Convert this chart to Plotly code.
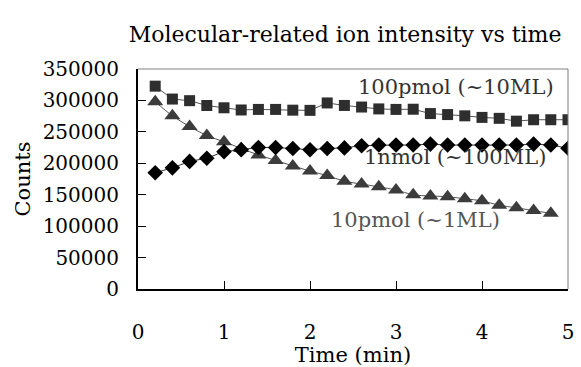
import plotly.graph_objects as go

time_sq = [0.2, 0.4, 0.6, 0.8, 1.0, 1.2, 1.4, 1.6, 1.8, 2.0, 2.2, 2.4, 2.6,
           2.8, 3.0, 3.2, 3.4, 3.6, 3.8, 4.0, 4.2, 4.4, 4.6, 4.8, 5.0]
pmol100 = [322700, 302200, 299600, 291900, 288300, 284800, 285700, 285700,
           284500, 284200, 296000, 292000, 289500, 286500, 285700, 286000,
           279100, 277500, 275500, 273000, 271500, 267000, 269300, 269300, 269300]

time_di = time_sq
nmol1 = [185000, 192700, 203000, 208100, 218500, 221600, 225100, 225100,
         223600, 221600, 223600, 224500, 228000, 229000, 229000, 229000,
         230500, 229000, 229000, 229000, 229000, 229000, 230500, 229000, 224000]

time_tr = [0.2, 0.4, 0.6, 0.8, 1.0, 1.2, 1.4, 1.6, 1.8, 2.0, 2.2, 2.4,
           2.6, 2.8, 3.0, 3.2, 3.4, 3.6, 3.8, 4.0, 4.2, 4.4, 4.6, 4.8]
pmol10 = [298000, 275500, 258500, 244100, 234400, 223600, 213300, 204600,
          195800, 187600, 180400, 171500, 167000, 162500, 157500, 150000,
          148000, 146800, 143500, 140200, 133200, 129200, 124700, 120500]

x_ticks = [0, 1, 2, 3, 4, 5]
y_ticks = [0, 50000, 100000, 150000, 200000, 250000, 300000, 350000]

FONT = "DejaVu Serif"

fig = go.Figure()
fig.add_trace(go.Scatter(x=time_sq, y=pmol100, mode="lines+markers",
                         line=dict(color="#555555", width=1),
                         marker=dict(symbol="square", size=11, color="#2e2e2e"),
                         name="100pmol (~10ML)"))
fig.add_trace(go.Scatter(x=time_tr, y=pmol10, mode="lines+markers",
                         line=dict(color="#555555", width=1, shape="spline"),
                         marker=dict(symbol="triangle-up", size=14, color="#3c3c3c"),
                         name="10pmol (~1ML)"))
fig.add_trace(go.Scatter(x=time_di, y=nmol1, mode="lines+markers",
                         line=dict(color="#333333", width=1),
                         marker=dict(symbol="diamond", size=12, color="#000000"),
                         name="1nmol (~100ML)"))

fig.add_annotation(x=3.70, y=320700, text="100pmol (~10ML)", showarrow=False,
                   font=dict(family=FONT, size=21, color="#333333"))
fig.add_annotation(x=3.69, y=209700, text="1nmol (~100ML)", showarrow=False,
                   font=dict(family=FONT, size=21, color="#333333"))
fig.add_annotation(x=3.23, y=109500, text="10pmol (~1ML)", showarrow=False,
                   font=dict(family=FONT, size=21, color="#555555"))

fig.update_layout(
    width=581, height=367,
    margin=dict(l=138, r=7, t=69, b=71),
    paper_bgcolor="white", plot_bgcolor="white",
    showlegend=False,
    font=dict(family=FONT, size=20, color="black"),
    title=dict(text="Molecular-related ion intensity vs time", x=0.594, xanchor="center",
               y=0.907, yanchor="middle", font=dict(family=FONT, size=22, color="black")),
)
fig.update_xaxes(range=[0, 5], tickvals=x_ticks, ticks="inside", ticklen=8,
                 tickcolor="black", showline=True, linecolor="black", linewidth=2,
                 mirror=False, showgrid=False, zeroline=False,
                 ticklabelstandoff=24, tickfont=dict(size=20),
                 title=dict(text="Time (min)", standoff=1, font=dict(family=FONT, size=21)))
fig.update_yaxes(range=[0, 350000], tickvals=y_ticks, tickformat="d", ticks="inside", ticklen=8,
                 tickcolor="black", showline=True, linecolor="black", linewidth=2,
                 showgrid=False, zeroline=False, ticklabelstandoff=13, tickfont=dict(size=20),
                 title=dict(text="Counts", standoff=6, font=dict(family=FONT, size=21)))
# gray frame on top and right
fig.add_shape(type="line", xref="paper", yref="paper", x0=0, x1=1, y0=1, y1=1,
              line=dict(color="#808080", width=1))
fig.add_shape(type="line", xref="paper", yref="paper", x0=1, x1=1, y0=0, y1=1,
              line=dict(color="#808080", width=1))

fig.write_html("out.html")
